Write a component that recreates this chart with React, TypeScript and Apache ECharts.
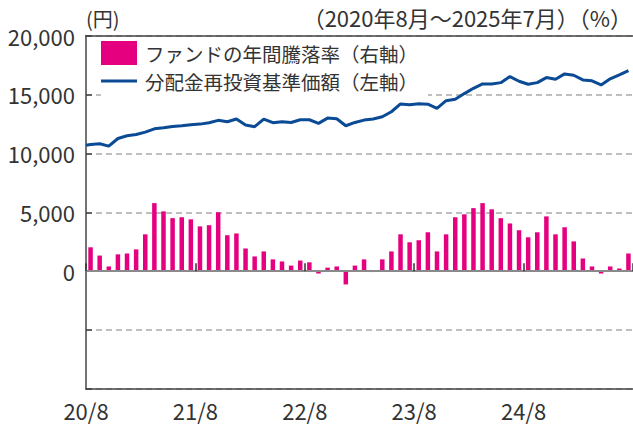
import React, { useEffect, useRef } from "react";
import * as echarts from "echarts";

// 月（60か月：2020年8月～2025年7月）
const categories = [
  "20/8", "20/9", "20/10", "20/11", "20/12",
  "21/1", "21/2", "21/3", "21/4", "21/5", "21/6", "21/7", "21/8", "21/9", "21/10", "21/11", "21/12",
  "22/1", "22/2", "22/3", "22/4", "22/5", "22/6", "22/7", "22/8", "22/9", "22/10", "22/11", "22/12",
  "23/1", "23/2", "23/3", "23/4", "23/5", "23/6", "23/7", "23/8", "23/9", "23/10", "23/11", "23/12",
  "24/1", "24/2", "24/3", "24/4", "24/5", "24/6", "24/7", "24/8", "24/9", "24/10", "24/11", "24/12",
  "25/1", "25/2", "25/3", "25/4", "25/5", "25/6", "25/7",
];

// x軸の目盛ラベル（12か月ごと）
const tickLabels = ["20/8", "21/8", "22/8", "23/8", "24/8"];

// 分配金再投資基準価額（円）：期初の値と各月末
const navStart = 10690;
const navValues = [
  10750, 10810, 10610, 11260, 11490, 11600, 11800, 12080, 12170, 12280,
  12350, 12430, 12480, 12600, 12800, 12680, 12910, 12400, 12260, 12910,
  12600, 12680, 12620, 12850, 12850, 12540, 12990, 12940, 12340, 12620,
  12820, 12920, 13100, 13530, 14190, 14130, 14210, 14170, 13820, 14470,
  14590, 15070, 15520, 15890, 15890, 16000, 16510, 16120, 15860, 16000,
  16430, 16290, 16740, 16630, 16230, 16150, 15800, 16320, 16660, 17020,
];

// ファンドの年間騰落率（%）
const returnValues = [
  8.1, 5.3, 1.6, 5.7, 6.0, 7.4, 12.5, 23.1, 20.3, 18.0,
  18.3, 17.6, 15.2, 15.6, 20.0, 12.2, 12.8, 7.7, 5.0, 6.7,
  4.0, 3.3, 1.9, 3.6, 3.0, -0.8, 1.2, 1.6, -4.5, 1.9,
  4.0, -0.3, 4.0, 6.7, 12.5, 9.8, 10.5, 13.2, 6.7, 12.5,
  18.3, 19.3, 21.4, 23.1, 21.0, 18.0, 16.2, 13.9, 11.5, 13.2,
  18.6, 12.5, 14.9, 10.1, 4.3, 1.6, -0.8, 1.6, 0.9, 6.0,
];

const barName = "ファンドの年間騰落率（右軸）";
const lineName = "分配金再投資基準価額（左軸）";
const leftUnit = "(円)";
const rightTitle = "（2020年8月～2025年7月）（%）";

const FONT = "'Noto Sans CJK JP', 'Noto Sans', sans-serif";
const BLUE = "#0B4A94";
const PINK = "#E4007F";

export default function App() {
  const ref = useRef<HTMLDivElement>(null);
  useEffect(() => {
    const chart = echarts.init(ref.current!, null, { renderer: "svg" });
    const n = categories.length;
    const barData = returnValues.map((v, i) => [i + 0.5, v]);
    const lineData = [[0, navStart], ...navValues.map((v, i) => [i + 0.5, v])];
    const baseX = {
      type: "value",
      min: 0,
      max: n,
      interval: 12,
      splitLine: { show: false },
    };
    chart.setOption({
      animation: false,
      backgroundColor: "#fff",
      textStyle: { fontFamily: FONT },
      grid: { left: 86, right: -3, top: 35.5, bottom: 36, containLabel: false },
      legend: {
        orient: "vertical",
        left: 101,
        top: 40,
        padding: [1, 10, 5, 0],
        itemGap: 4,
        itemWidth: 36,
        itemHeight: 24,
        backgroundColor: "#fff",
        textStyle: { fontSize: 19.5, lineHeight: 24, color: "#333", fontFamily: FONT, padding: [0, 0, 0, 3] },
        data: [
          { name: barName, icon: "rect" },
          { name: lineName, icon: "path://M0,0H36V3H0Z", itemStyle: { color: BLUE } },
        ],
      },
      graphic: [
        {
          type: "text",
          x: 86,
          y: 18,
          style: { text: leftUnit, fontSize: 20, fill: "#333", fontFamily: FONT, align: "left", verticalAlign: "middle" },
        },
        {
          type: "text",
          x: 632,
          y: 17,
          style: { text: rightTitle, fontSize: 22, fill: "#333", fontFamily: FONT, align: "right", verticalAlign: "middle" },
        },
      ],
      xAxis: [
        {
          ...baseX,
          position: "bottom",
          axisLine: { onZero: false, lineStyle: { color: "#444", width: 1.5 } },
          axisTick: { show: false },
          axisLabel: {
            fontSize: 22,
            lineHeight: 22,
            color: "#333",
            margin: 10,
            fontFamily: FONT,
            showMaxLabel: false,
            formatter: (v: number) => tickLabels[Math.round(v / 12)] ?? "",
          },
        },
        {
          ...baseX,
          position: "bottom",
          z: 5,
          axisLine: { onZero: true, onZeroAxisIndex: 0, lineStyle: { color: "#8a8a8a", width: 2 } },
          axisTick: { show: true, inside: true, length: 8, lineStyle: { color: "#333", width: 1.5 } },
          axisLabel: { show: false },
        },
        {
          ...baseX,
          position: "top",
          axisLine: { onZero: false, lineStyle: { color: "#444", width: 1.5 } },
          axisTick: { show: false },
          axisLabel: { show: false },
        },
      ],
      yAxis: [
        {
          type: "value",
          min: -10000,
          max: 20000,
          interval: 5000,
          position: "left",
          axisLine: { show: true, onZero: false, lineStyle: { color: "#444", width: 1.5 } },
          axisTick: { show: true, inside: true, length: 6, lineStyle: { color: "#444", width: 1.5 } },
          axisLabel: {
            formatter: (v: number) => (v < 0 ? "" : v.toLocaleString("en-US")),
            fontSize: 22,
            color: "#333",
            margin: 11,
            fontFamily: FONT,
          },
          splitLine: { show: true, lineStyle: { color: "#aaa", type: [6, 4], width: 1.5 } },
        },
        { type: "value", min: -40, max: 80, interval: 20, show: false, splitLine: { show: false } },
      ],
      series: [
        {
          name: barName,
          type: "bar",
          data: barData,
          xAxisIndex: 0,
          yAxisIndex: 1,
          barWidth: 4.5,
          itemStyle: { color: PINK },
        },
        {
          name: lineName,
          type: "line",
          data: lineData,
          xAxisIndex: 0,
          yAxisIndex: 0,
          symbol: "none",
          z: 4,
          lineStyle: { color: BLUE, width: 3 },
          itemStyle: { color: BLUE },
        },
      ],
    });
    return () => chart.dispose();
  }, []);
  return <div ref={ref} style={{ position: "absolute", left: 0, top: 0, width: 633, height: 425 }} />;
}
